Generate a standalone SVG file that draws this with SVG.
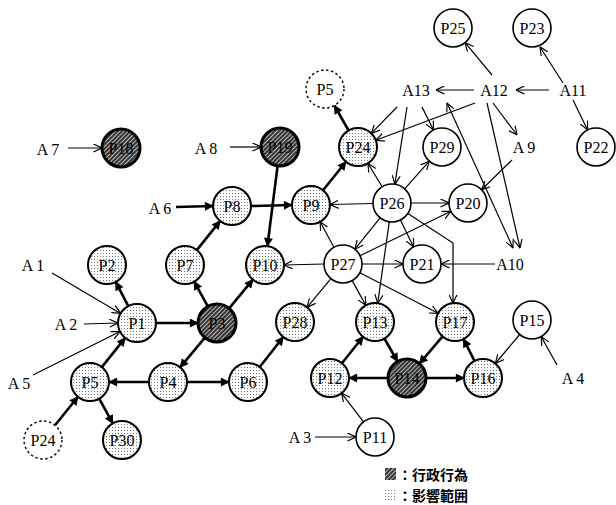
<svg xmlns="http://www.w3.org/2000/svg" width="616" height="505" viewBox="0 0 616 505">
<style>
text{font-family:"Liberation Serif","Noto Sans CJK JP",serif;font-size:16px;fill:#000;text-anchor:middle;dominant-baseline:central}
.plain{fill:#fff;stroke:#000;stroke-width:1.6}
.dot{fill:url(#stip);stroke:#000;stroke-width:2}
.hat{fill:url(#hatch);stroke:#000;stroke-width:3}
.dash{fill:#fff;stroke:#000;stroke-width:1.4;stroke-dasharray:2.5 2.5}
.b{fill:none;stroke:#000;stroke-width:2.6;marker-end:url(#fh)}
.t{fill:none;stroke:#000;stroke-width:1.2;marker-end:url(#oh)}
.leg{text-anchor:start;font-size:14px;font-weight:bold;font-family:"Noto Sans CJK JP",sans-serif}
</style>
<defs>
<pattern id="stip" width="3" height="3" patternUnits="userSpaceOnUse">
<rect width="3" height="3" fill="#fff"/>
<rect x="1" y="1" width="1" height="1" fill="#777"/>
</pattern>
<pattern id="hatch" width="3" height="3" patternUnits="userSpaceOnUse" patternTransform="rotate(45)">
<rect width="3" height="3" fill="#333"/>
<rect width="1" height="3" fill="#bbb"/>
</pattern>
<marker id="fh" viewBox="0 0 10 10" refX="9" refY="5" markerWidth="10" markerHeight="9" markerUnits="userSpaceOnUse" orient="auto">
<path d="M0,0 L10,5 L0,10 Z" fill="#000"/>
</marker>
<marker id="oh" viewBox="0 0 10 10" refX="9.5" refY="5" markerWidth="9" markerHeight="9" markerUnits="userSpaceOnUse" orient="auto">
<path d="M0,0.5 L9.5,5 L0,9.5" fill="none" stroke="#000" stroke-width="1.3"/>
</marker>
<marker id="ohs" viewBox="0 0 10 10" refX="9.5" refY="5" markerWidth="9" markerHeight="9" markerUnits="userSpaceOnUse" orient="auto-start-reverse">
<path d="M0,0.5 L9.5,5 L0,9.5" fill="none" stroke="#000" stroke-width="1.3"/>
</marker>
</defs>
<g id="connectors">
<line class="b" x1="348.6" y1="130.5" x2="334.4" y2="105.5"/>
<line class="b" x1="323" y1="190.2" x2="346" y2="161.8"/>
<line class="b" x1="251" y1="206" x2="292" y2="205"/>
<line class="b" x1="277.6" y1="165.8" x2="267.4" y2="246.2"/>
<line class="b" x1="176" y1="207" x2="213" y2="206"/>
<line class="b" x1="196.8" y1="250.1" x2="220.2" y2="220.9"/>
<line class="b" x1="207.8" y1="306.4" x2="194.2" y2="281.6"/>
<line class="b" x1="229.1" y1="308.4" x2="252.9" y2="279.6"/>
<line class="b" x1="156" y1="323" x2="198" y2="323"/>
<line class="b" x1="128.3" y1="306.1" x2="115.7" y2="281.9"/>
<line class="b" x1="101.8" y1="367.1" x2="125.2" y2="337.9"/>
<line class="b" x1="204.9" y1="337.6" x2="180.1" y2="367.4"/>
<line class="b" x1="149" y1="382" x2="109" y2="382"/>
<line class="b" x1="187" y1="382" x2="229" y2="382"/>
<line class="b" x1="259.7" y1="367" x2="283.3" y2="337"/>
<line class="b" x1="55" y1="425.2" x2="78" y2="396.8"/>
<line class="b" x1="99.2" y1="398.6" x2="112.8" y2="423.4"/>
<line class="b" x1="341.9" y1="363.2" x2="363.1" y2="336.8"/>
<line class="b" x1="384.4" y1="338.5" x2="397.6" y2="361.5"/>
<line class="b" x1="442.6" y1="336.4" x2="419.4" y2="363.6"/>
<line class="b" x1="388" y1="378" x2="349" y2="378"/>
<line class="b" x1="426" y1="378" x2="464" y2="378"/>
<line class="b" x1="474.5" y1="361" x2="463.5" y2="339"/>
<line class="t" x1="68" y1="148" x2="102" y2="148"/>
<line class="t" x1="230" y1="147" x2="261" y2="147"/>
<line class="t" x1="52" y1="273" x2="120.6" y2="313.4"/>
<line class="t" x1="84" y1="324" x2="118" y2="323"/>
<line class="t" x1="33" y1="375" x2="120" y2="331.5"/>
<line class="t" x1="315" y1="437" x2="356" y2="437"/>
<line class="t" x1="363.5" y1="421.9" x2="341.5" y2="393.1"/>
<line class="t" x1="557" y1="365" x2="541.2" y2="336.6"/>
<line class="t" x1="519.7" y1="334.5" x2="495.3" y2="363.5"/>
<line class="t" x1="495" y1="264" x2="441" y2="264"/>
<line class="t" x1="549" y1="90" x2="516" y2="90"/>
<line class="t" x1="474" y1="90" x2="436" y2="90"/>
<line class="t" x1="563" y1="83" x2="540" y2="47"/>
<line class="t" x1="573" y1="100" x2="587.6" y2="129.9"/>
<line class="t" x1="492" y1="75" x2="465.1" y2="42.6"/>
<line class="t" x1="475" y1="103" x2="375.8" y2="140.3"/>
<line class="t" x1="397" y1="107" x2="371.3" y2="133.4"/>
<line class="t" x1="422" y1="107" x2="433.5" y2="130"/>
<line class="t" x1="407" y1="107" x2="394.9" y2="184.2"/>
<line class="t" x1="447" y1="103" x2="513" y2="248" style="marker-start:url(#ohs)"/>
<line class="t" x1="487" y1="103" x2="520" y2="248"/>
<line class="t" x1="493" y1="103" x2="517" y2="135"/>
<line class="t" x1="512" y1="160" x2="481.6" y2="189.7"/>
<line class="t" x1="382.1" y1="186.8" x2="367.9" y2="163.2"/>
<line class="t" x1="404.7" y1="188.8" x2="429.3" y2="161.2"/>
<line class="t" x1="373" y1="203.5" x2="330" y2="204.5"/>
<line class="t" x1="411" y1="203" x2="449" y2="203"/>
<line class="t" x1="380.1" y1="217.8" x2="354.9" y2="249.2"/>
<line class="t" x1="400.4" y1="220" x2="413.6" y2="247"/>
<line class="t" x1="389.3" y1="221.8" x2="377.7" y2="303.2"/>
<polyline class="t" points="407.9,213.4 453,243 453,303.1"/>
<line class="t" x1="333.9" y1="247.3" x2="320.1" y2="221.7"/>
<line class="t" x1="324" y1="264" x2="284" y2="265"/>
<line class="t" x1="360.1" y1="255.7" x2="450.9" y2="211.3"/>
<line class="t" x1="362" y1="264" x2="403" y2="264"/>
<line class="t" x1="330.9" y1="278.6" x2="307.1" y2="307.4"/>
<line class="t" x1="352.2" y1="280.6" x2="365.8" y2="305.4"/>
<line class="t" x1="359.9" y1="272.7" x2="438.1" y2="313.3"/>
</g>
<g id="labels">
<text x="48" y="149">A 7</text>
<text x="206" y="148">A 8</text>
<text x="160" y="208">A 6</text>
<text x="33" y="265">A 1</text>
<text x="66" y="324">A 2</text>
<text x="19" y="383">A 5</text>
<text x="300" y="437">A 3</text>
<text x="573" y="378">A 4</text>
<text x="416" y="90">A13</text>
<text x="494" y="90">A12</text>
<text x="573" y="90">A11</text>
<text x="524" y="147">A 9</text>
<text x="510" y="264">A10</text>
</g>
<g id="P25"><circle class="plain" cx="453" cy="28" r="19"/><text x="453" y="28">P25</text></g>
<g id="P23"><circle class="plain" cx="532" cy="28" r="19"/><text x="532" y="28">P23</text></g>
<g id="P5top"><circle class="dash" cx="325" cy="89" r="19"/><text x="325" y="89">P5</text></g>
<g id="P22"><circle class="plain" cx="596" cy="147" r="19"/><text x="596" y="147">P22</text></g>
<g id="P24"><circle class="dot" cx="358" cy="147" r="19"/><text x="358" y="147">P24</text></g>
<g id="P29"><circle class="plain" cx="442" cy="147" r="19"/><text x="442" y="147">P29</text></g>
<g id="P18"><circle class="hat" cx="121" cy="148" r="19"/><text x="121" y="148">P18</text></g>
<g id="P19"><circle class="hat" cx="280" cy="147" r="19"/><text x="280" y="147">P19</text></g>
<g id="P8"><circle class="dot" cx="232" cy="206" r="19"/><text x="232" y="206">P8</text></g>
<g id="P9"><circle class="dot" cx="311" cy="205" r="19"/><text x="311" y="205">P9</text></g>
<g id="P26"><circle class="plain" cx="392" cy="203" r="19"/><text x="392" y="203">P26</text></g>
<g id="P20"><circle class="plain" cx="468" cy="203" r="19"/><text x="468" y="203">P20</text></g>
<g id="P2"><circle class="dot" cx="107" cy="265" r="19"/><text x="107" y="265">P2</text></g>
<g id="P7"><circle class="dot" cx="185" cy="265" r="19"/><text x="185" y="265">P7</text></g>
<g id="P10"><circle class="dot" cx="265" cy="265" r="19"/><text x="265" y="265">P10</text></g>
<g id="P27"><circle class="plain" cx="343" cy="264" r="19"/><text x="343" y="264">P27</text></g>
<g id="P21"><circle class="plain" cx="422" cy="264" r="19"/><text x="422" y="264">P21</text></g>
<g id="P1"><circle class="dot" cx="137" cy="323" r="19"/><text x="137" y="323">P1</text></g>
<g id="P3"><circle class="hat" cx="217" cy="323" r="19"/><text x="217" y="323">P3</text></g>
<g id="P28"><circle class="dot" cx="295" cy="322" r="19"/><text x="295" y="322">P28</text></g>
<g id="P13"><circle class="dot" cx="375" cy="322" r="19"/><text x="375" y="322">P13</text></g>
<g id="P17"><circle class="dot" cx="455" cy="322" r="19"/><text x="455" y="322">P17</text></g>
<g id="P15"><circle class="plain" cx="532" cy="320" r="19"/><text x="532" y="320">P15</text></g>
<g id="P5"><circle class="dot" cx="90" cy="382" r="19"/><text x="90" y="382">P5</text></g>
<g id="P4"><circle class="dot" cx="168" cy="382" r="19"/><text x="168" y="382">P4</text></g>
<g id="P6"><circle class="dot" cx="248" cy="382" r="19"/><text x="248" y="382">P6</text></g>
<g id="P12"><circle class="dot" cx="330" cy="378" r="19"/><text x="330" y="378">P12</text></g>
<g id="P14"><circle class="hat" cx="407" cy="378" r="19"/><text x="407" y="378">P14</text></g>
<g id="P16"><circle class="dot" cx="483" cy="378" r="19"/><text x="483" y="378">P16</text></g>
<g id="P24b"><circle class="dash" cx="43" cy="440" r="19"/><text x="43" y="440">P24</text></g>
<g id="P30"><circle class="dot" cx="122" cy="440" r="19"/><text x="122" y="440">P30</text></g>
<g id="P11"><circle class="plain" cx="375" cy="437" r="19"/><text x="375" y="437">P11</text></g>
<g id="legend">
<rect x="385" y="468" width="11" height="12" fill="url(#hatch)"/>
<text class="leg" x="398" y="474">：行政行為</text>
<rect x="385" y="489" width="11" height="12" fill="url(#stip)"/>
<text class="leg" x="398" y="495">：影響範囲</text>
</g>
</svg>
